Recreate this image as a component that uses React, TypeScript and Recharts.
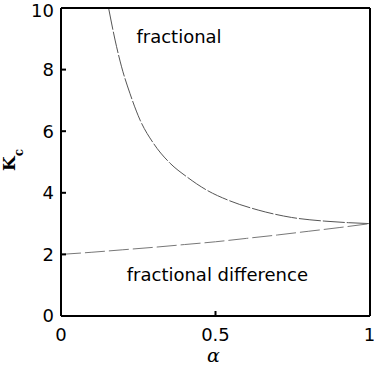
import { LineChart, Line, XAxis, YAxis, ReferenceDot } from 'recharts';

// alpha / K_c
const alphaFrac = [0.154, 0.175, 0.196, 0.223, 0.256, 0.299, 0.353, 0.407, 0.471, 0.541, 0.638, 0.746, 0.854, 0.93, 1.0];
const kFrac = [10, 8.96, 8.09, 7.23, 6.36, 5.61, 4.96, 4.52, 4.09, 3.76, 3.44, 3.2, 3.08, 3.03, 3.0];

const alphaDiff = [0, 0.1, 0.2, 0.3, 0.4, 0.5, 0.6, 0.7, 0.8, 0.9, 1.0];
const kDiff = [2.0, 2.07, 2.15, 2.23, 2.32, 2.41, 2.52, 2.63, 2.75, 2.87, 3.0];

const xTicks = [0, 0.5, 1];
const yTicks = [0, 2, 4, 6, 8, 10];

const fracData = alphaFrac.map((a, i) => ({ a, k: kFrac[i] }));
const diffData = alphaDiff.map((a, i) => ({ a, k: kDiff[i] }));

const sans = 'DejaVu Sans';
const tickFont = { fill: '#000', fontSize: 18, fontFamily: sans };
const frame = { stroke: '#000', strokeWidth: 2 };

function YLabel() {
  return (
    <text
      x={15}
      y={160}
      transform="rotate(-90 15 160)"
      textAnchor="middle"
      fontFamily="DejaVu Serif"
      fontWeight="bold"
      fontSize={17}
      fill="#000"
    >
      K<tspan fontSize={12} dy={8}>c</tspan>
    </text>
  );
}

export default function App() {
  return (
    <div style={{ position: 'absolute', left: 0, top: 0, background: '#fff' }}>
      <LineChart width={374} height={365} margin={{ top: 7, right: 3, left: 0, bottom: 0 }}>
        <XAxis
          dataKey="a"
          type="number"
          domain={[0, 1]}
          ticks={xTicks}
          allowDataOverflow
          height={49}
          axisLine={frame}
          tickLine={frame}
          tickSize={-5}
          tickMargin={17}
          tick={tickFont}
          tickFormatter={(v: number) => String(v)}
        />
        <XAxis
          xAxisId="top"
          orientation="top"
          dataKey="a"
          type="number"
          domain={[0, 1]}
          ticks={xTicks}
          allowDataOverflow
          height={1}
          axisLine={frame}
          tickLine={frame}
          tickSize={-5}
          tick={false}
        />
        <YAxis
          type="number"
          domain={[0, 10]}
          ticks={yTicks}
          allowDataOverflow
          width={61}
          axisLine={frame}
          tickLine={frame}
          tickSize={-5}
          tickMargin={12}
          tick={tickFont}
          label={<YLabel />}
        />
        <YAxis
          yAxisId="right"
          orientation="right"
          type="number"
          domain={[0, 10]}
          ticks={yTicks}
          allowDataOverflow
          width={1}
          axisLine={frame}
          tickLine={frame}
          tickSize={-5}
          tick={false}
        />
        {/* invisible copy so the mirrored top/right axes get drawn */}
        <Line
          xAxisId="top"
          yAxisId="right"
          data={diffData}
          dataKey="k"
          stroke="none"
          dot={false}
          activeDot={false}
          isAnimationActive={false}
        />
        <Line
          data={fracData}
          dataKey="k"
          type="monotone"
          stroke="#555"
          strokeWidth={1}
          strokeDasharray="22 2"
          dot={false}
          isAnimationActive={false}
        />
        <Line
          data={diffData}
          dataKey="k"
          type="monotone"
          stroke="#777"
          strokeWidth={1}
          strokeDasharray="20 4"
          dot={false}
          isAnimationActive={false}
        />
        <ReferenceDot
          x={0.382}
          y={9.07}
          r={0}
          ifOverflow="visible"
          label={{ value: 'fractional', position: 'center', fill: '#000', fontSize: 18, fontFamily: sans }}
        />
        <ReferenceDot
          x={0.506}
          y={1.33}
          r={0}
          ifOverflow="visible"
          label={{ value: 'fractional difference', position: 'center', fill: '#000', fontSize: 18, fontFamily: sans }}
        />
      </LineChart>
      <div
        style={{
          position: 'absolute',
          left: 207,
          top: 347,
          fontFamily: 'DejaVu Serif',
          fontStyle: 'italic',
          fontSize: 19,
          lineHeight: '16px',
        }}
      >
        α
      </div>
    </div>
  );
}
